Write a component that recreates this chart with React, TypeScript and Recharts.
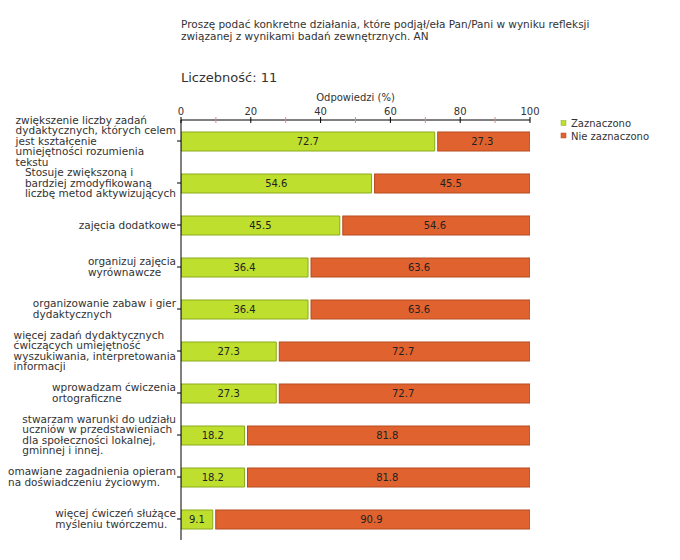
import { Bar, BarChart, CartesianGrid, LabelList, XAxis, YAxis } from "recharts";

const categories = [
    "zwiększenie liczby zadań\ndydaktycznych, których celem\njest kształcenie\numiejętności rozumienia\ntekstu",
    "Stosuje zwiększoną i\nbardziej zmodyfikowaną\nliczbę metod aktywizujących",
    "zajęcia dodatkowe",
    "organizuj zajęcia\nwyrównawcze",
    "organizowanie zabaw i gier\ndydaktycznych",
    "więcej zadań dydaktycznych\nćwiczących umiejętność\nwyszukiwania, interpretowania\ninformacji",
    "wprowadzam ćwiczenia\nortograficzne",
    "stwarzam warunki do udziału\nuczniów w przedstawieniach\ndla społeczności lokalnej,\ngminnej i innej.",
    "omawiane zagadnienia opieram\nna doświadczeniu życiowym.",
    "więcej ćwiczeń służące\nmyśleniu twórczemu."
];
const marked = [72.7, 54.6, 45.5, 36.4, 36.4, 27.3, 27.3, 18.2, 18.2, 9.1];
const notMarked = [27.3, 45.5, 54.6, 63.6, 63.6, 72.7, 72.7, 81.8, 81.8, 90.9];
const axisTicks = [0, 10, 20, 30, 40, 50, 60, 70, 80, 90, 100];
const gridTicks = [20, 40, 60, 80, 100];

const data = categories.map((name, i) => ({ name, yes: marked[i], no: notMarked[i] }));

const FONT = "'DejaVu Sans', Verdana, sans-serif";
const LABEL_SIZE = 10.5;
const GREEN = "#bfdf2f";
const GREEN_EDGE = "#8aab1c";
const ORANGE = "#e0622e";
const ORANGE_EDGE = "#b64a1f";

let ctx: CanvasRenderingContext2D | null = null;
function textWidth(s: string) {
    if (!ctx) ctx = document.createElement("canvas").getContext("2d");
    ctx!.font = LABEL_SIZE + "px " + FONT;
    return ctx!.measureText(s).width;
}

// category labels: left-aligned block whose right edge sits next to the axis
const CategoryTick = (props) => {
    const { x, y, payload } = props;
    const lines = String(payload.value).split("\n");
    const w = Math.max(...lines.map(textWidth));
    const lh = 10.5;
    const top = y - ((lines.length - 1) * lh) / 2 + 3.5;
    return (
        <g>
            <line x1={x - 4} x2={x} y1={y} y2={y} stroke="#000" />
            {lines.map((l, i) => (
                <text key={i} x={x - 5 - w} y={top + i * lh} fontSize={LABEL_SIZE} fontFamily={FONT} fill="#333">
                    {l}
                </text>
            ))}
        </g>
    );
};

const ValueTick = (props) => {
    const { x, y, payload } = props;
    const major = payload.value % 20 === 0;
    return (
        <g>
            <line x1={x} x2={x} y1={y - 3} y2={y + 3} stroke={major ? "#000" : "#d88"} />
            {major && (
                <text x={x} y={y - 5} textAnchor="middle" fontSize={10} fontFamily={FONT} fill="#333">
                    {payload.value}
                </text>
            )}
        </g>
    );
};

const GapBar = (props) => {
    const { x, y, width, height } = props;
    return <rect x={x + 3} y={y} width={Math.max(width - 3, 0)} height={height} fill={ORANGE} stroke={ORANGE_EDGE} />;
};

export default function App() {
    return (
        <div style={{ position: "absolute", left: 0, top: 0, width: 680, height: 560, background: "#fff" }}>
            <BarChart
                width={680}
                height={560}
                data={data}
                layout="vertical"
                margin={{ top: 100, right: 150, left: 6, bottom: 20 }}
                barSize={19}
            >
                <CartesianGrid
                    horizontal={false}
                    stroke="#ddd"
                    strokeDasharray="4 4"
                    verticalCoordinatesGenerator={({ xAxis }) =>
                        xAxis && typeof xAxis.scale === "function" ? gridTicks.map((t) => xAxis.scale(t)) : []
                    }
                />
                <XAxis
                    type="number"
                    orientation="top"
                    domain={[0, 100]}
                    ticks={axisTicks}
                    allowDataOverflow
                    height={20}
                    tickLine={false}
                    tickSize={0}
                    tickMargin={0}
                    axisLine={{ stroke: "#000" }}
                    tick={<ValueTick />}
                    interval={0}
                />
                <YAxis
                    type="category"
                    dataKey="name"
                    width={175}
                    tickLine={false}
                    tickSize={0}
                    tickMargin={0}
                    axisLine={{ stroke: "#000" }}
                    tick={<CategoryTick />}
                    interval={0}
                />
                <Bar dataKey="yes" stackId="a" fill={GREEN} stroke={GREEN_EDGE} isAnimationActive={false}>
                    <LabelList dataKey="yes" position="center" fill="#222" fontSize={10} fontFamily={FONT} formatter={(v) => Number(v).toFixed(1)} />
                </Bar>
                <Bar dataKey="no" stackId="a" fill={ORANGE} shape={<GapBar />} isAnimationActive={false}>
                    <LabelList dataKey="no" position="center" fill="#222" fontSize={10} fontFamily={FONT} formatter={(v) => Number(v).toFixed(1)} />
                </Bar>
            </BarChart>
            <svg width={680} height={560} style={{ position: "absolute", left: 0, top: 0, pointerEvents: "none" }} fontFamily={FONT}>
                <text x={181} y={28} fontSize={10.5} fill="#333">
                    Proszę podać konkretne działania, które podjął/eła Pan/Pani w wyniku refleksji
                </text>
                <text x={181} y={40} fontSize={10.5} fill="#333">
                    związanej z wynikami badań zewnętrznych. AN
                </text>
                <text x={181} y={82} fontSize={13} fill="#333">
                    Liczebność: 11
                </text>
                <text x={355.5} y={101} fontSize={10} fill="#333" textAnchor="middle">
                    Odpowiedzi (%)
                </text>
                <rect x={561} y={120.5} width={5} height={5} fill={GREEN} stroke={GREEN_EDGE} strokeWidth={0.5} />
                <text x={571} y={127} fontSize={10} fill="#333">Zaznaczono</text>
                <rect x={561} y={133} width={5} height={5} fill={ORANGE} stroke={ORANGE_EDGE} strokeWidth={0.5} />
                <text x={571} y={139.5} fontSize={10} fill="#333">Nie zaznaczono</text>
            </svg>
        </div>
    );
}
